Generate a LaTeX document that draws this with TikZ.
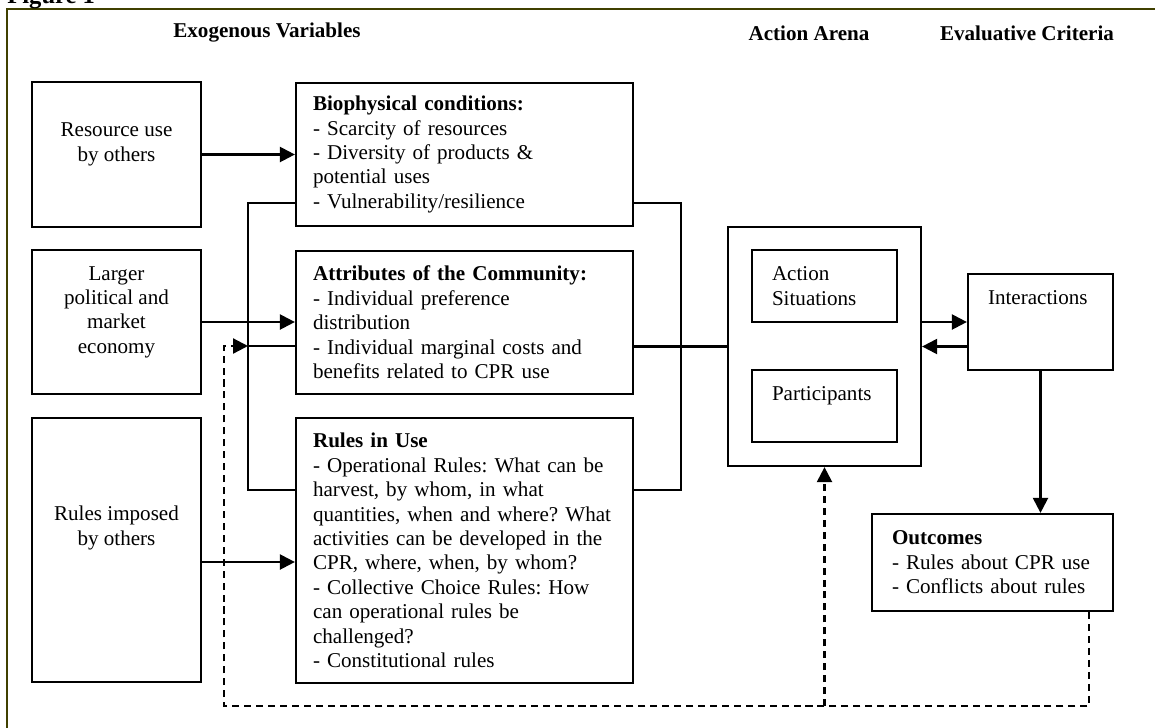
\documentclass[tikz,border=0pt]{standalone}
\usepackage{fontspec}
\setmainfont{Liberation Serif}
\usepackage{tikz}
\usetikzlibrary{arrows.meta, positioning}
\usepackage{xcolor}
\definecolor{frameolive}{RGB}{64,64,0}
\frenchspacing

\tikzset{
  box/.style={draw, line width=1.3pt, inner sep=0pt, align=center},
  txtbox/.style={draw, line width=1.3pt, inner xsep=0.4cm, inner ysep=0pt, align=left},
  arr/.style={line width=1.3pt, -{Triangle[length=0.3cm, width=0.3cm]}},
  link/.style={line width=1.3pt},
  fback/.style={line width=1.3pt, dash pattern=on 4pt off 2.8pt},
  head/.style={font=\fontsize{12}{13.9}\selectfont\bfseries},
}

\begin{document}
\begin{tikzpicture}[x=0.02cm, y=-0.02cm, every node/.append style={font=\fontsize{12}{13.9}\selectfont}]
  \useasboundingbox (0,0) rectangle (1155,727);

  % frame and headings
  \draw[frameolive, line width=1.4pt] (7,740) -- (7,9) -- (1160,9);
  \node[anchor=base west, font=\fontsize{14}{16}\selectfont\bfseries, inner sep=0pt] (figlbl) at (7,3) {Figure 1};
  \node[head] (hexo) at (267,33) {Exogenous Variables};
  \node[head] (harena) at (809,33) {Action Arena};
  \node[head] (heval) at (1027,33) {Evaluative Criteria};

  % exogenous boxes
  \node[box, minimum width=3.38cm, minimum height=2.9cm] (res) at (116.5,154.5) {Resource use\\by others\\\mbox{}};
  \node[box, minimum width=3.38cm, minimum height=2.88cm] (larger) at (116.5,322) {Larger\\political and\\market\\economy\\\mbox{}};
  \node[box, minimum width=3.38cm, minimum height=5.28cm] (imposed) at (116.5,550) {Rules imposed\\by others\\\mbox{}\\\mbox{}};

  \node[txtbox, inner xsep=0.34cm, text width=6.06cm, minimum height=2.86cm] (bio) at (464.5,154.5)
    {\textbf{Biophysical conditions:}\\- Scarcity of resources\\- Diversity of products \&\\potential uses\\- Vulnerability/resilience};
  \node[txtbox, inner xsep=0.34cm, text width=6.06cm, minimum height=2.86cm] (attr) at (464.5,322.5)
    {\textbf{Attributes of the Community:}\\- Individual preference\\distribution\\- Individual marginal costs and\\benefits related to CPR use};
  \node[txtbox, inner xsep=0.34cm, text width=6.06cm, minimum height=5.3cm] (rules) at (464.5,550.5)
    {\textbf{Rules in Use}\\- Operational Rules: What can be\\harvest, by whom, in what\\quantities, when and where? What\\activities can be developed in the\\CPR, where, when, by whom?\\- Collective Choice Rules: How\\can operational rules be\\challenged?\\- Constitutional rules};

  % action arena
  \node[box, minimum width=3.86cm, minimum height=4.78cm] (arena) at (824.5,346.5) {};
  \node[txtbox, text width=2.1cm, minimum height=1.44cm] (sit) at (824.5,286) {Action\\Situations};
  \node[txtbox, text width=2.1cm, minimum height=1.44cm] (part) at (824.5,406) {Participants\\\mbox{}};

  % evaluative criteria
  \node[txtbox, text width=2.1cm, minimum height=1.92cm] (inter) at (1040.5,322) {Interactions\\\mbox{}\\\mbox{}};
  \node[txtbox, text width=4.02cm, minimum height=1.94cm] (out) at (992.5,562.5)
    {\textbf{Outcomes}\\- Rules about CPR use\\- Conflicts about rules};

  % bracket points
  \coordinate (lbT) at (248,203);
  \coordinate (lbB) at (248,490);
  \coordinate (rbT) at (681,203);
  \coordinate (rbB) at (681,490);
  \coordinate (fb) at (248,346);
  \coordinate (fbR) at (1089,706);
  \coordinate (fbL) at (224,706);
  \coordinate (fbM) at (824.5,706);

  % exogenous arrows
  \draw[arr] (res.east) -- (bio.west |- res.east);
  \draw[arr] (larger.east) -- (attr.west |- larger.east);
  \draw[arr] (imposed.east |- 0,562) -- (rules.west |- 0,562);

  % brackets
  \draw[link] (bio.west |- lbT) -- (lbT) -- (lbB) -- (rules.west |- lbB);
  \draw[link] (fb) -- (attr.west |- fb);
  \draw[link] (bio.east |- rbT) -- (rbT) -- (rbB) -- (rules.east |- rbB);
  \draw[link] (attr.east |- arena.west) -- (arena.west);

  % arena and outcomes
  \draw[arr] (arena.east |- inter.west) -- (inter.west);
  \draw[arr] (inter.west |- arena.east) -- (arena.east);
  \draw[arr] (inter.south) -- (inter.south |- out.north);

  % feedback
  \draw[fback, -{Triangle[length=0.3cm, width=0.3cm]}] (out.south -| fbR) -- (fbR) -- (fbL) |- (fb);
  \draw[fback, -{Triangle[length=0.3cm, width=0.3cm]}] (fbM) -- (arena.south);
\end{tikzpicture}
\end{document}
